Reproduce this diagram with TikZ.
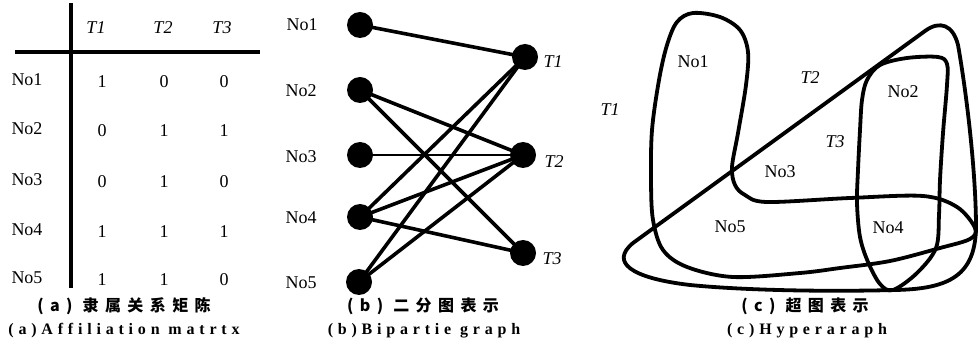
\documentclass[tikz,border=0pt]{standalone}
\usepackage{fontspec}
\setmainfont{Liberation Serif}
\newfontfamily\capfont[LetterSpace=30]{Liberation Serif}
\newfontfamily\cjkcap[LetterSpace=40]{Noto Sans CJK SC}
\begin{document}
\begin{tikzpicture}[x=1pt,y=-1pt,
  lbl/.style={inner sep=0pt, font=\fontsize{18}{20}\selectfont},
  tlbl/.style={inner sep=0pt, font=\fontsize{18}{20}\selectfont\itshape},
  capen/.style={inner sep=0pt, font=\fontsize{16}{18}\capfont\bfseries},
  capzh/.style={inner sep=0pt, font=\fontsize{16}{18}\cjkcap\bfseries},
  rule/.style={line width=4pt},
  vtx/.style={circle, fill=black, minimum size=26pt, inner sep=0pt},
  edge/.style={line width=3.6pt},
  thinedge/.style={line width=2.2pt},
  hyper/.style={line width=3.8pt, line join=round}]
\useasboundingbox (0,0) rectangle (979,352);
% ---------- (a) matrix ----------
\coordinate (vtop) at (71,3);
\coordinate (vbot) at (71,288);
\coordinate (hl) at (15,52);
\coordinate (hr) at (260,52);
\draw[rule] (vtop) -- (vbot);
\draw[rule] (hl) -- (hr);
\node[tlbl] (h1) at (96,28) {T1};
\node[tlbl] (h2) at (163,28) {T2};
\node[tlbl] (h3) at (222,28) {T3};
\foreach \r/\y/\a/\b/\c in {1/80/1/0/0, 2/129/0/1/1, 3/180/0/1/0, 4/230/1/1/1, 5/278/1/1/0}{
  \node[lbl] (r\r) at (27,\y) {No\r};
  \node[lbl] (m\r a) at (102,\y+2) {\a};
  \node[lbl] (m\r b) at (164,\y+2) {\b};
  \node[lbl] (m\r c) at (224,\y+2) {\c};
}
\node[capzh] (capa1) at (124,306) {(a) 隶属关系矩陈};
\node[capen] (capa2) at (124,331) {(a)Affiliation matrtx};
% ---------- (b) bipartite graph ----------
\node[vtx] (n1) at (360,25) {};
\node[vtx] (n2) at (360,90) {};
\node[vtx] (n3) at (360,155) {};
\node[vtx] (n4) at (360,217) {};
\node[vtx] (n5) at (359,282) {};
\node[vtx] (t1) at (525,57) {};
\node[vtx] (t2) at (523,155) {};
\node[vtx] (t3) at (523,253) {};
\node[lbl] (ln1) at (302,25) {No1};
\node[lbl] (ln2) at (301,91) {No2};
\node[lbl] (ln3) at (301,157) {No3};
\node[lbl] (ln4) at (301,218) {No4};
\node[lbl] (ln5) at (301,283) {No5};
\node[tlbl] (lt1) at (553,62) {T1};
\node[tlbl] (lt2) at (554,162) {T2};
\node[tlbl] (lt3) at (552,259) {T3};
\draw[edge] (n1.center) -- (t1.center);
\draw[edge] (n2.center) -- (t2.center);
\draw[edge] (n2.center) -- (t3.center);
\draw[thinedge] (n3.center) -- (t2.center);
\draw[edge] (n4.center) -- (t1.center);
\draw[edge] (n4.center) -- (t2.center);
\draw[edge] (n4.center) -- (t3.center);
\draw[edge] (n5.center) -- (t1.center);
\draw[edge] (n5.center) -- (t2.center);
\node[capzh] (capb1) at (423,306) {(b) 二分图表示};
\node[capen] (capb2) at (424,331) {(b)Bipartie graph};
% ---------- (c) hypergraph ----------
% T1 = {No1, No4, No5}
\draw[hyper] plot[smooth cycle, tension=0.55] coordinates {
  (693,13) (720,17) (740,30) (748,52) (746,85) (738,133) (732,167)
  (735,185) (745,195) (767,202) (850,198) (923,196) (957,207) (975,228)
  (970,239) (940,248) (890,261) (840,268) (800,273) (733,277) (687,267)
  (663,250) (653,220) (651,180) (652,130) (659,80) (667,45) (677,22)};
% T2 = {No2, No3, No4, No5}
\draw[hyper] (633,243) -- (925,31)
  .. controls (940,20) and (953,25) .. (958,45)
  .. controls (966,90) and (976,170) .. (976,228)
  .. controls (975,275) and (950,289) .. (895,290)
  .. controls (820,292) and (740,290) .. (690,285)
  .. controls (630,278) and (610,262) .. (633,243) -- cycle;
% T3 = {No2, No4}
\draw[hyper] plot[smooth cycle, tension=0.55] coordinates {
  (862,100) (867,80) (880,65) (907,58) (938,57) (947,64) (947,85) (943,133)
  (940,180) (939,215) (936,248) (917,273) (893,290) (880,284) (868,262)
  (860,237) (857,203) (858,170) (860,130)};
\node[tlbl] (ct1) at (610,110) {T1};
\node[tlbl] (ct2) at (810,78) {T2};
\node[tlbl] (ct3) at (835,142) {T3};
\node[lbl] (cn1) at (693,62) {No1};
\node[lbl] (cn2) at (903,92) {No2};
\node[lbl] (cn3) at (780,172) {No3};
\node[lbl] (cn4) at (888,228) {No4};
\node[lbl] (cn5) at (730,227) {No5};
\node[capzh] (capc1) at (805,306) {(c) 超图表示};
\node[capen] (capc2) at (807,331) {(c)Hyperaraph};
\end{tikzpicture}
\end{document}
